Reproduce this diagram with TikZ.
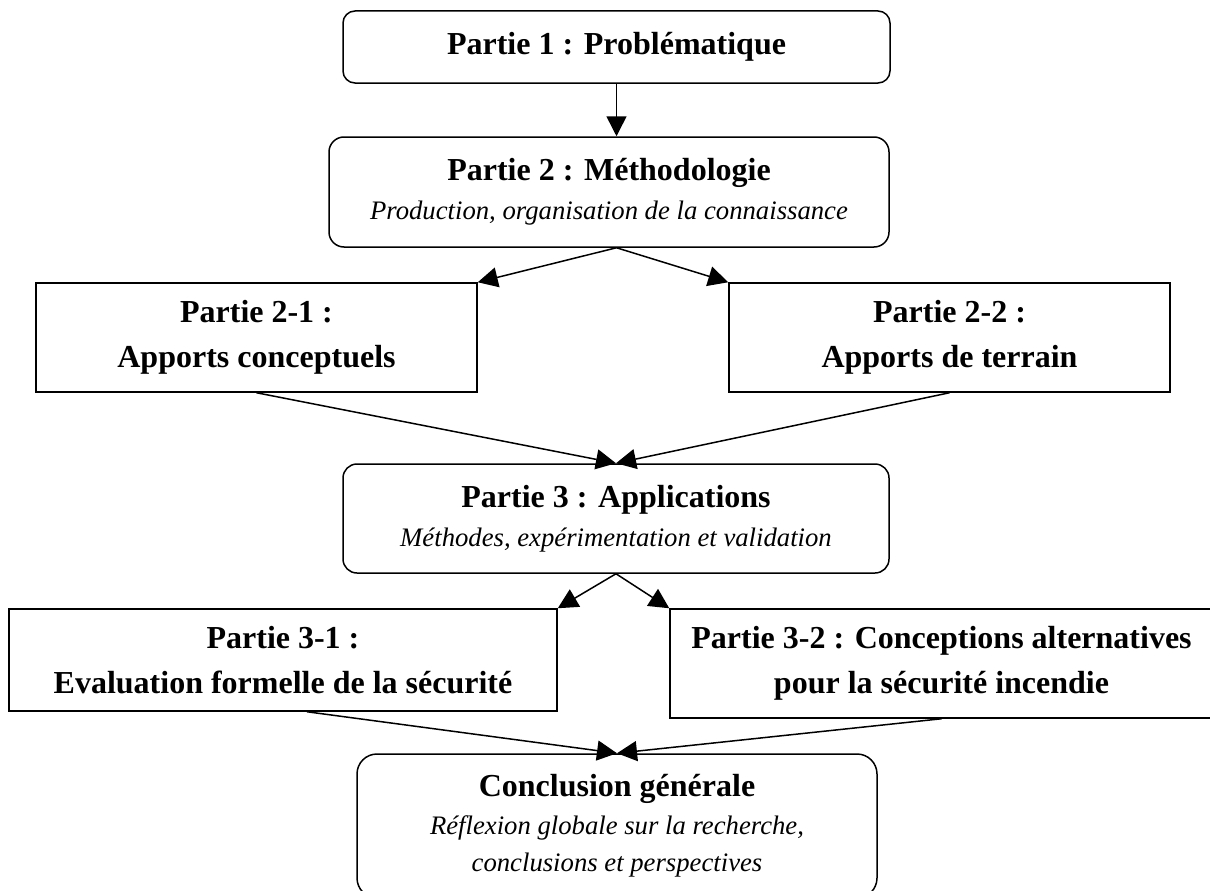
\documentclass[tikz,border=0pt]{standalone}
\usepackage{fontspec}
\setmainfont{Liberation Serif}
\usetikzlibrary{arrows.meta}
\newcommand{\sous}[1]{{\fontsize{26.7}{30}\selectfont\mdseries\itshape #1}}

\begin{document}
\begin{tikzpicture}[x=1pt, y=-1pt,
		part/.style={draw, line width=1.5pt, align=center, inner sep=0pt, font=\fontsize{32}{44.5}\selectfont\bfseries},
		roundpart/.style={part, rounded corners=#1, font=\fontsize{32}{39}\selectfont\bfseries},
		link/.style={line width=1.5pt, -{Triangle[length=20pt, width=20pt]}}]
			%%%%% START %%%%%
			
			\clip (0, 0) rectangle (1210, 891);
			
			\node[roundpart=12pt, minimum width=547pt, minimum height=72pt] (p1) at (616.5, 47) {Partie 1 : Problématique};
			\node[roundpart=15pt, minimum width=560pt, minimum height=110pt] (p2) at (609, 192) {Partie 2 : Méthodologie\\\sous{Production, organisation de la connaissance}};
			
			\node[part, minimum width=441pt, minimum height=109pt] (p21) at (256.5, 337.5) {Partie 2-1 :\\Apports conceptuels};
			\node[part, minimum width=441pt, minimum height=109pt] (p22) at (949.5, 337.5) {Partie 2-2 :\\Apports de terrain};
			
			\node[roundpart=14pt, minimum width=546pt, minimum height=109pt] (p3) at (616, 518.5) {Partie 3 : Applications\\\sous{Méthodes, expérimentation et validation}};
			
			\node[part, minimum width=548pt, minimum height=102pt] (p31) at (283, 660) {Partie 3-1 :\\Evaluation formelle de la sécurité};
			\node[part, minimum width=543pt, minimum height=109pt] (p32) at (941.5, 663.5) {Partie 3-2 : Conceptions alternatives\\pour la sécurité incendie};
			
			\node[roundpart=20pt, minimum width=520pt, minimum height=144pt, font=\fontsize{32}{37.5}\selectfont\bfseries] (conc) at (617, 826) {Conclusion générale\\\sous{Réflexion globale sur la recherche,}\\\sous{conclusions et perspectives}};
			
			\draw[link] (p1.south) -- (p1.south |- p2.north);
			\draw[link] (p1.south |- p2.south) -- (p21.north east);
			\draw[link] (p1.south |- p2.south) -- (p22.north west);
			
			\draw[link] (p21.south) -- (p3.north);
			\draw[link] (p22.south) -- (p3.north);
			
			\draw[link] (p3.south) -- (p31.north east);
			\draw[link] (p3.south) -- (p32.north west);
			
			\draw[link] ([xshift=24pt]p31.south) -- (conc.north);
			\draw[link] (p32.south) -- (conc.north);
			
			%%%%% END %%%%%
\end{tikzpicture}
\end{document}
